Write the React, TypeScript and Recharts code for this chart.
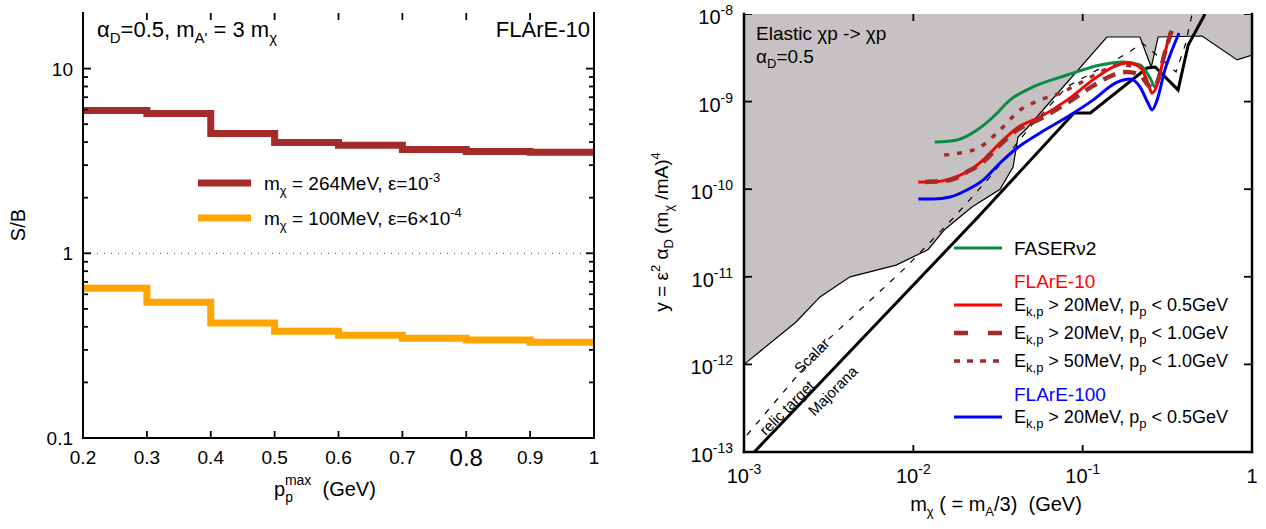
import React from 'react';
import { ComposedChart, Line, Area, Scatter, XAxis, YAxis, ReferenceLine } from 'recharts';

const FONT = '"Liberation Sans", Arial, Helvetica, sans-serif';

// ---------- left panel: S/B vs p_p^max (FLArE-10) ----------
const pMax = [0.2, 0.3, 0.4, 0.5, 0.6, 0.7, 0.8, 0.9, 1.0];
const sbHeavy = [5.93, 5.71, 4.45, 3.98, 3.84, 3.65, 3.56, 3.52, 3.52]; // m_chi = 264 MeV
const sbLight = [0.647, 0.543, 0.419, 0.379, 0.36, 0.347, 0.339, 0.33, 0.33]; // m_chi = 100 MeV
const pTicks = [0.2, 0.3, 0.4, 0.5, 0.6, 0.7, 0.8, 0.9, 1];
const sbMajor = [0.1, 1, 10];
const sbMinor = [0.2, 0.3, 0.4, 0.5, 0.6, 0.7, 0.8, 0.9, 2, 3, 4, 5, 6, 7, 8, 9];
const pDomain = [0.2, 1];
const sbDomain = [0.1, 20];

// ---------- right panel: y vs m_chi ----------
const massTicks = [0.001, 0.01, 0.1, 1];
const yTicks = [1e-13, 1e-12, 1e-11, 1e-10, 1e-9, 1e-8];
const massDomain = [0.001, 1];
const yDomain = [1e-13, 1e-8];

// existing constraints (grey, filled up to the top)
const excludedX = [0.001, 0.00203, 0.00281, 0.00423, 0.00791, 0.0122, 0.0152, 0.0222, 0.0325, 0.0388, 0.0415, 0.047, 0.139, 0.218, 0.254, 0.279, 0.507, 0.817, 1];
const excludedY = [1e-12, 3.05e-12, 5.89e-12, 1e-11, 1.36e-11, 2.04e-11, 3.42e-11, 6.27e-11, 1e-10, 1.79e-10, 3.94e-10, 5.0e-10, 5.46e-9, 5.46e-9, 2.48e-9, 5.46e-9, 5.61e-9, 2.99e-9, 3.4e-9];

// relic targets
const scalarX = [0.00104, 0.00313, 0.00906, 0.0172, 0.0284, 0.0489, 0.0809, 0.185, 0.224, 0.307, 0.356, 0.403, 0.443];
const scalarY = [1.56e-13, 1.91e-12, 1.29e-11, 4.68e-11, 1.38e-10, 5.13e-10, 1.48e-9, 3.59e-9, 4.67e-9, 2.83e-9, 2.18e-9, 4.43e-9, 1e-8];
const majoranaX = [0.00115, 0.0238, 0.0889, 0.111, 0.24, 0.268, 0.366, 0.42, 0.528];
const majoranaY = [1e-13, 4.68e-11, 7.41e-10, 7.41e-10, 2.42e-9, 2.48e-9, 1.36e-9, 4.43e-9, 1e-8];

// sensitivities
const faserX = [0.0134, 0.0181, 0.0238, 0.0296, 0.0372, 0.0509, 0.0809, 0.127, 0.173, 0.218, 0.25, 0.268, 0.286];
const faserY = [3.46e-10, 3.65e-10, 4.74e-10, 6.67e-10, 1.04e-9, 1.47e-9, 2.01e-9, 2.62e-9, 2.83e-9, 2.62e-9, 1.86e-9, 1.47e-9, 2.18e-9];
const f10aX = [0.0107, 0.0131, 0.0165, 0.0207, 0.0258, 0.0325, 0.041, 0.056, 0.0809, 0.115, 0.151, 0.183, 0.218, 0.243, 0.257, 0.275, 0.299, 0.328];
const f10aY = [1.21e-10, 1.21e-10, 1.31e-10, 1.57e-10, 2.15e-10, 3.37e-10, 5.0e-10, 6.67e-10, 1.04e-9, 1.77e-9, 2.48e-9, 2.76e-9, 2.48e-9, 1.63e-9, 1.25e-9, 1.55e-9, 2.99e-9, 6.07e-9];
const f10bX = [0.0117, 0.0165, 0.0207, 0.0258, 0.0325, 0.041, 0.056, 0.0809, 0.115, 0.151, 0.183, 0.218, 0.243, 0.261, 0.279, 0.303, 0.337];
const f10bY = [1.21e-10, 1.27e-10, 1.57e-10, 2.04e-10, 3.2e-10, 4.74e-10, 6.32e-10, 9.64e-10, 1.51e-9, 2.01e-9, 2.18e-9, 2.01e-9, 1.55e-9, 1.43e-9, 1.77e-9, 3.4e-9, 6.56e-9];
const f10cX = [0.0152, 0.0189, 0.0248, 0.0325, 0.0427, 0.056, 0.0735, 0.0966, 0.127, 0.166, 0.218];
const f10cY = [2.45e-10, 2.59e-10, 3.03e-10, 4.74e-10, 8.02e-10, 1.04e-9, 1.25e-9, 1.63e-9, 2.18e-9, 2.62e-9, 2.42e-9];
const f100X = [0.0107, 0.0131, 0.0165, 0.0207, 0.0258, 0.0325, 0.041, 0.056, 0.0809, 0.115, 0.16, 0.191, 0.218, 0.243, 0.257, 0.275, 0.306, 0.337, 0.371];
const f100Y = [7.73e-11, 7.73e-11, 8.15e-11, 9.79e-11, 1.27e-10, 1.99e-10, 2.95e-10, 4.39e-10, 6.67e-10, 1.04e-9, 1.67e-9, 1.81e-9, 1.47e-9, 9.64e-10, 8.02e-10, 1.04e-9, 2.3e-9, 3.88e-9, 6.07e-9];

const zip = (xs: number[], ys: number[]) => xs.map((x, i) => ({ x, y: ys[i] }));

const leftData = pMax.map((x, i) => ({ x, heavy: sbHeavy[i], light: sbLight[i] }));

const BROWN = '#a52a2a';
const ORANGE = '#ffa500';
const GREEN = '#0a8a43';
const txt = { fontFamily: FONT, fill: '#000' };
const frame = { stroke: '#000', strokeWidth: 2, strokeLinecap: 'square' as const };
const frameR = { stroke: '#000', strokeWidth: 2.5, strokeLinecap: 'square' as const };
const noTick = { tickSize: 0, tickMargin: 0, tickLine: false };

// text with sub/superscripts, no empty tspans
type Seg = [string, ('sub' | 'sup')?];
const Rich = ({ segs, small = 13, sub = 5, sup = -8 }: { segs: Seg[]; small?: number; sub?: number; sup?: number }) => {
  let level = 0;
  return (
    <>
      {segs.map(([t, k], i) => {
        const target = k === 'sub' ? sub : k === 'sup' ? sup : 0;
        const dy = target - level;
        level = target;
        return (
          <tspan key={i} dy={dy || undefined} fontSize={k ? small : undefined}>
            {t}
          </tspan>
        );
      })}
    </>
  );
};

// ---- tick labels (x, y arrive on the axis line) ----
const PBottomTick = ({ x, y, payload }: any) => {
  const v = payload.value;
  const big = v === 0.8;
  return (
    <text x={x} y={y + (big ? 28 : 26)} textAnchor="middle" fontSize={big ? 24 : 19} style={txt}>
      {String(v)}
    </text>
  );
};
const SbLeftTick = ({ x, y, payload }: any) =>
  sbMajor.includes(payload.value) ? (
    <text x={x - 10} y={y + 7} textAnchor="end" fontSize={19} style={txt}>
      {String(payload.value)}
    </text>
  ) : (
    <g />
  );
const MassTick = ({ x, y, payload }: any) => {
  const e = Math.round(Math.log10(payload.value));
  return (
    <text x={x} y={y + 31} textAnchor="middle" fontSize={20} style={txt}>
      {e === 0 ? '1' : <Rich small={14} sup={-9} segs={[['10'], [String(e), 'sup']]} />}
    </text>
  );
};
const YLeftTick = ({ x, y, payload }: any) => {
  const e = Math.round(Math.log10(payload.value));
  return (
    <text x={x - 11} y={y + 10} textAnchor="end" fontSize={20} style={txt}>
      <Rich small={14} sup={-9} segs={[['10'], [String(e), 'sup']]} />
    </text>
  );
};

// ---- inward tick marks, placed through the chart scales as tiny scatter marks ----
const TICK_W = 1.8;
const mark = (dx: number, dy: number) => (p: any) =>
  <path d={`M${p.cx},${p.cy}l${dx},${dy}`} stroke="#000" strokeWidth={TICK_W} fill="none" />;
const sideMark = (dir: number, majors: number[]) => (p: any) => {
  const len = majors.includes(p.payload.y) ? 8 : 5;
  return <path d={`M${p.cx},${p.cy}l${dir * len},0`} stroke="#000" strokeWidth={TICK_W} fill="none" />;
};
const FrameTicks = ({ xs, ys, xd, yd, majors }: { xs: number[]; ys: number[]; xd: number[]; yd: number[]; majors: number[] }) => [
  <Scatter key="tb" xAxisId="b" yAxisId="l" data={xs.map((x) => ({ x, y: yd[0] }))} dataKey="y" shape={mark(0, -7)} isAnimationActive={false} />,
  <Scatter key="tt" xAxisId="b" yAxisId="l" data={xs.map((x) => ({ x, y: yd[1] }))} dataKey="y" shape={mark(0, 7)} isAnimationActive={false} />,
  <Scatter key="tl" xAxisId="b" yAxisId="l" data={ys.map((y) => ({ x: xd[0], y }))} dataKey="y" shape={sideMark(1, majors)} isAnimationActive={false} />,
  <Scatter key="tr" xAxisId="b" yAxisId="l" data={ys.map((y) => ({ x: xd[1], y }))} dataKey="y" shape={sideMark(-1, majors)} isAnimationActive={false} />,
];

const LeftPanel = () => (
  <ComposedChart width={620} height={529} data={leftData} margin={{ top: 13, right: 0, bottom: 51, left: 0 }}>
    <ReferenceLine xAxisId="b" yAxisId="l" y={1} stroke="#666" strokeWidth={1.3} strokeDasharray="1 6" />
    <Line xAxisId="b" yAxisId="l" type="stepAfter" dataKey="heavy" stroke={BROWN} strokeWidth={7} dot={false} activeDot={false} isAnimationActive={false} />
    <Line xAxisId="b" yAxisId="l" type="stepAfter" dataKey="light" stroke={ORANGE} strokeWidth={7} dot={false} activeDot={false} isAnimationActive={false} />
    {FrameTicks({ xs: pTicks, ys: [...sbMajor, ...sbMinor], xd: pDomain, yd: sbDomain, majors: sbMajor })}
    <XAxis xAxisId="b" type="number" dataKey="x" domain={pDomain} allowDataOverflow ticks={pTicks} interval={0}
      height={40} {...noTick} axisLine={frame} tick={(p: any) => <PBottomTick {...p} />} />
    <XAxis xAxisId="t" orientation="top" type="number" dataKey="x" domain={pDomain} allowDataOverflow ticks={pTicks}
      height={0} {...noTick} axisLine={frame} tick={false} />
    <YAxis yAxisId="l" type="number" scale="log" domain={sbDomain} allowDataOverflow ticks={[...sbMajor, ...sbMinor]} interval={0}
      width={83} {...noTick} axisLine={frame} tick={(p: any) => <SbLeftTick {...p} />} />
    <YAxis yAxisId="r" orientation="right" type="number" scale="log" domain={sbDomain} allowDataOverflow ticks={sbMajor}
      width={26} {...noTick} axisLine={frame} tick={false} />
  </ComposedChart>
);

const RightPanel = () => (
  <ComposedChart width={626} height={529} margin={{ top: 14, right: 0, bottom: 37, left: 0 }}>
    <Area xAxisId="b" yAxisId="l" data={zip(excludedX, excludedY)} dataKey="y" type="linear" baseValue="dataMax"
      fill="#c6c2c3" fillOpacity={1} stroke="#000" strokeWidth={1.2} dot={false} activeDot={false} isAnimationActive={false} />
    <Line xAxisId="b" yAxisId="l" data={zip(scalarX, scalarY)} dataKey="y" type="linear" stroke="#000" strokeWidth={1.2}
      strokeDasharray="6 8" dot={false} activeDot={false} isAnimationActive={false} />
    <Line xAxisId="b" yAxisId="l" data={zip(majoranaX, majoranaY)} dataKey="y" type="linear" stroke="#000" strokeWidth={3}
      dot={false} activeDot={false} isAnimationActive={false} />
    <Line xAxisId="b" yAxisId="l" data={zip(faserX, faserY)} dataKey="y" type="monotone" stroke={GREEN} strokeWidth={3}
      dot={false} activeDot={false} isAnimationActive={false} />
    <Line xAxisId="b" yAxisId="l" data={zip(f10aX, f10aY)} dataKey="y" type="monotone" stroke="#ff0000" strokeWidth={3}
      dot={false} activeDot={false} isAnimationActive={false} />
    <Line xAxisId="b" yAxisId="l" data={zip(f100X, f100Y)} dataKey="y" type="monotone" stroke="#0000ff" strokeWidth={3}
      dot={false} activeDot={false} isAnimationActive={false} />
    <Line xAxisId="b" yAxisId="l" data={zip(f10cX, f10cY)} dataKey="y" type="monotone" stroke={BROWN} strokeWidth={3.5}
      strokeDasharray="5 8" dot={false} activeDot={false} isAnimationActive={false} />
    <Line xAxisId="b" yAxisId="l" data={zip(f10bX, f10bY)} dataKey="y" type="monotone" stroke={BROWN} strokeWidth={4.5}
      strokeDasharray="13 8" dot={false} activeDot={false} isAnimationActive={false} />
    {FrameTicks({ xs: massTicks, ys: yTicks, xd: massDomain, yd: yDomain, majors: yTicks })}
    <XAxis xAxisId="b" type="number" dataKey="x" scale="log" domain={massDomain} allowDataOverflow ticks={massTicks} interval={0}
      height={40} {...noTick} axisLine={frameR} tick={(p: any) => <MassTick {...p} />} />
    <XAxis xAxisId="t" orientation="top" type="number" dataKey="x" scale="log" domain={massDomain} allowDataOverflow ticks={massTicks}
      height={0} {...noTick} axisLine={frameR} tick={false} />
    <YAxis yAxisId="l" type="number" scale="log" domain={yDomain} allowDataOverflow ticks={yTicks} interval={0}
      width={104} {...noTick} axisLine={frameR} tick={(p: any) => <YLeftTick {...p} />} />
    <YAxis yAxisId="r" orientation="right" type="number" scale="log" domain={yDomain} allowDataOverflow ticks={yTicks}
      width={14} {...noTick} axisLine={frameR} tick={false} />
  </ComposedChart>
);

const legendRows: { label: Seg[]; y: number; color: string; width: number; dash?: string }[] = [
  { label: [['E'], ['k,p', 'sub'], [' > 20MeV, p'], ['p', 'sub'], [' < 0.5GeV']], y: 305, color: '#ff0000', width: 3 },
  { label: [['E'], ['k,p', 'sub'], [' > 20MeV, p'], ['p', 'sub'], [' < 1.0GeV']], y: 333, color: BROWN, width: 4.5, dash: '14 20' },
  { label: [['E'], ['k,p', 'sub'], [' > 50MeV, p'], ['p', 'sub'], [' < 1.0GeV']], y: 361, color: BROWN, width: 3.5, dash: '6 7' },
  { label: [['E'], ['k,p', 'sub'], [' > 20MeV, p'], ['p', 'sub'], [' < 0.5GeV']], y: 417, color: '#0000ff', width: 3 },
];

const Overlay = () => (
  <svg width={1266} height={529} style={{ position: 'absolute', left: 0, top: 0, pointerEvents: 'none', fontFamily: FONT }}>
    {/* left panel texts */}
    <text x={97} y={37} fontSize={22} style={txt}>
      <Rich small={15} sub={6} segs={[['α'], ['D', 'sub'], ['=0.5, m'], ["A'", 'sub'], [' = 3 m'], ['χ', 'sub']]} />
    </text>
    <text x={590} y={37} fontSize={22} textAnchor="end" style={txt}>FLArE-10</text>
    <line x1={198} x2={251} y1={183} y2={183} stroke={BROWN} strokeWidth={7} />
    <line x1={198} x2={251} y1={218} y2={218} stroke={ORANGE} strokeWidth={7} />
    <text x={264} y={190} fontSize={19} style={txt}>
      <Rich segs={[['m'], ['χ', 'sub'], [' = 264MeV, ε=10'], ['-3', 'sup']]} />
    </text>
    <text x={264} y={225} fontSize={19} style={txt}>
      <Rich segs={[['m'], ['χ', 'sub'], [' = 100MeV, ε=6×10'], ['-4', 'sup']]} />
    </text>
    <text transform="translate(25,225) rotate(-90)" textAnchor="middle" fontSize={20} style={txt}>S/B</text>
    <text x={274} y={496} fontSize={20} style={txt}>
      p<tspan dy={6} fontSize={14}>p</tspan><tspan dx={-8} dy={-17} fontSize={14}>max</tspan>
      <tspan dy={11}>{'\u00a0\u00a0(GeV)'}</tspan>
    </text>

    {/* right panel texts */}
    <text x={756} y={40} fontSize={19} style={txt}>Elastic χp -&gt; χp</text>
    <text x={756} y={63} fontSize={19} style={txt}>
      <Rich segs={[['α'], ['D', 'sub'], ['=0.5']]} />
    </text>
    <text transform="translate(668,232) rotate(-90)" textAnchor="middle" fontSize={19} style={txt}>
      <Rich segs={[['y = ε'], ['2', 'sup'], [' α'], ['D', 'sub'], [' (m'], ['χ', 'sub'], [' /mA)'], ['4', 'sup']]} />
    </text>
    <text x={996} y={511} fontSize={20} textAnchor="middle" style={txt}>
      <Rich segs={[['m'], ['χ', 'sub'], [' ( = m'], ['A', 'sub'], ['/3)\u00a0\u00a0(GeV)']]} />
    </text>
    <text transform="translate(812,356) rotate(-45)" y={5} fontSize={15} textAnchor="middle" style={txt}>Scalar</text>
    <text transform="translate(787,408) rotate(-45)" y={5} fontSize={15} textAnchor="middle" style={txt}>relic target</text>
    <text transform="translate(833,391) rotate(-45)" y={5} fontSize={15} textAnchor="middle" style={txt}>Majorana</text>

    {/* right legend */}
    <line x1={954} x2={1002} y1={248} y2={248} stroke={GREEN} strokeWidth={3} />
    <text x={1014} y={255} fontSize={19} style={txt}>FASERν2</text>
    <text x={1014} y={288} fontSize={19} style={{ fontFamily: FONT, fill: '#ff0000' }}>FLArE-10</text>
    <text x={1014} y={401} fontSize={19} style={{ fontFamily: FONT, fill: '#0000ff' }}>FLArE-100</text>
    {legendRows.map((r, i) => (
      <g key={i}>
        <line x1={954} x2={1002} y1={r.y} y2={r.y} stroke={r.color} strokeWidth={r.width} strokeDasharray={r.dash} />
        <text x={1014} y={r.y + 6} fontSize={18} style={txt}>
          <Rich segs={r.label} />
        </text>
      </g>
    ))}
  </svg>
);

export default function App() {
  return (
    <div style={{ position: 'absolute', left: 0, top: 0, width: 1266, height: 529, background: '#fff', fontFamily: FONT }}>
      <div style={{ position: 'absolute', left: 0, top: 0 }}>
        <LeftPanel />
      </div>
      <div style={{ position: 'absolute', left: 640, top: 0 }}>
        <RightPanel />
      </div>
      <Overlay />
    </div>
  );
}
